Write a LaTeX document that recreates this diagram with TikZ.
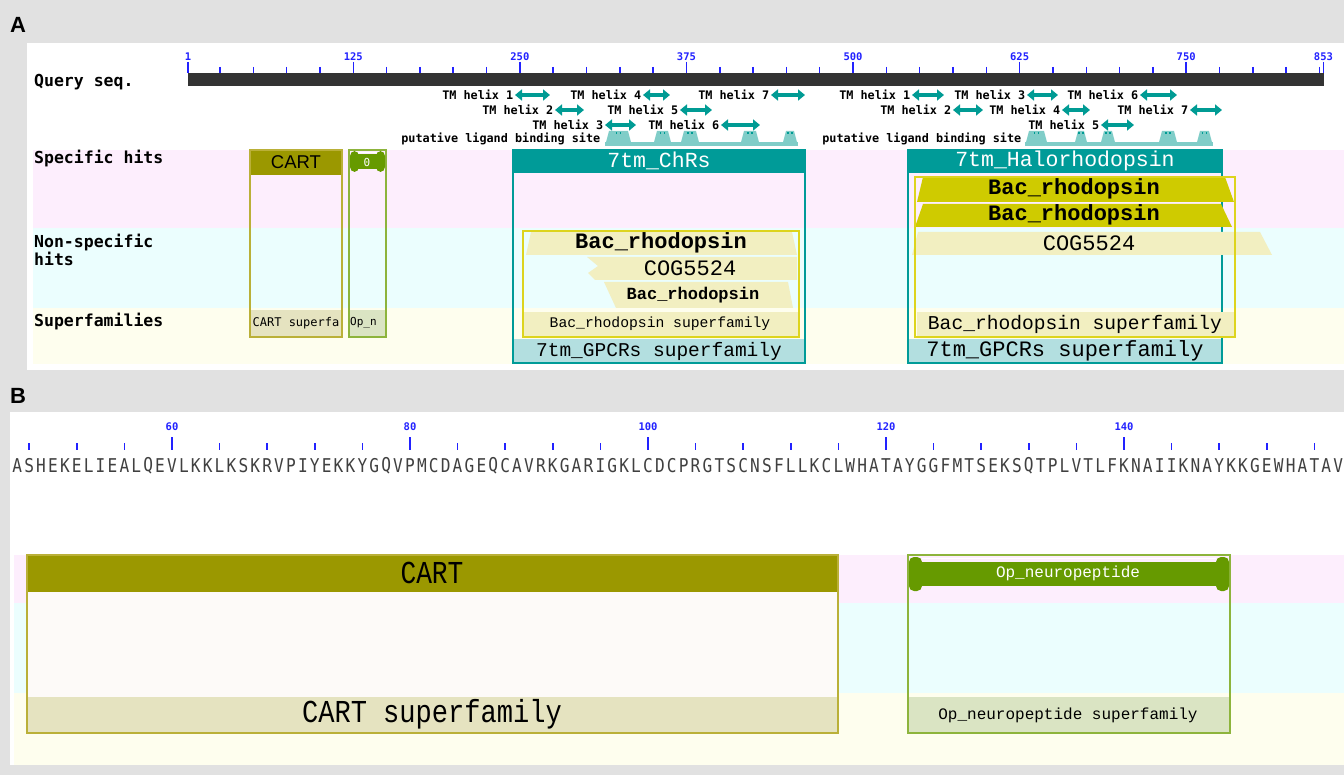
\documentclass[tikz,border=0pt]{standalone}
\usepackage{fontspec}
\usepackage{graphicx}
\usetikzlibrary{arrows.meta}
\newfontfamily\cddmono{Liberation Mono}
\newfontfamily\cddbit{DejaVu Sans Mono}
\newfontfamily\cddsans{Liberation Sans}
\definecolor{panelgray}{HTML}{E1E1E1}
\definecolor{bandpink}{HTML}{FDEEFD}
\definecolor{bandcyan}{HTML}{EBFEFE}
\definecolor{bandyellow}{HTML}{FEFEEE}
\definecolor{cartolive}{HTML}{9B9800}
\definecolor{cartline}{HTML}{BAB038}
\definecolor{cartsuper}{HTML}{E5E3C0}
\definecolor{cartinner}{HTML}{FDFAF8}
\definecolor{opgreen}{HTML}{669A00}
\definecolor{opline}{HTML}{8DB43C}
\definecolor{opsuper}{HTML}{DAE4C3}
\definecolor{cddteal}{HTML}{009B98}
\definecolor{tealsuper}{HTML}{B3DFE0}
\definecolor{bacdark}{HTML}{CFCB00}
\definecolor{bacline}{HTML}{DDD41E}
\definecolor{bacpale}{HTML}{F2EFC1}
\definecolor{tmteal}{HTML}{009B94}
\definecolor{ligteal}{HTML}{80CDC8}
\definecolor{rulerblue}{HTML}{2222FF}
\definecolor{querybar}{HTML}{333333}
\definecolor{seqgray}{HTML}{404040}
\newcommand{\narrowaa}[1]{\scalebox{0.85}[1]{#1}}
\newcommand{\tmhelix}[5]{\node[tmtext] (#1) at (#3,#5) {#2};
  \draw[tmarrow] (#1.east) -- (#4,#5);}
\newcommand{\ligpeak}[2]{\fill[ligteal] (#1,146) -- (#1+4,131) -- (#2-4,131) -- (#2,146) -- cycle;
  \fill[tmteal] ({(#1+#2)/2-3},132) rectangle ++(1.5,2.5);
  \fill[tmteal] ({(#1+#2)/2+1},132) rectangle ++(1.5,2.5);}
\tikzset{
  panellabel/.style={anchor=west, inner sep=0pt, font=\cddsans\bfseries\fontsize{22}{22}\selectfont},
  rowlabel/.style={anchor=west, inner sep=0pt, align=left, font=\cddbit\bfseries\fontsize{16.5}{18}\selectfont},
  rulertick/.style={draw=rulerblue, line width=1.5pt},
  rulerlab/.style={inner sep=0pt, text=rulerblue, font=\cddbit\bfseries\fontsize{10.5}{11}\selectfont},
  tmtext/.style={anchor=east, inner sep=1.5pt, font=\cddbit\bfseries\fontsize{11.8}{12}\selectfont},
  tmarrow/.style={draw=tmteal, line width=4.5pt, >={Triangle[length=7pt,width=11pt]}, <->},
  hittext/.style={inner sep=0pt},
  seqaa/.style={inner sep=0pt, text=seqgray, font=\cddbit\fontsize{19}{19}\selectfont}
}
\begin{document}
\begin{tikzpicture}[x=1pt,y=-1pt]
\useasboundingbox (0,0) rectangle (1344,775);
\clip (0,0) rectangle (1344,775);
\fill[panelgray] (0,0) rectangle (1344,775);
\fill[white] (27,43) rectangle (1344,370);
\fill[white] (10,412) rectangle (1344,765);
\node[panellabel] (labA) at (10,25) {A};
\node[panellabel] (labB) at (10,396) {B};

% panel A
\fill[bandpink] (33,150) rectangle (1344,228);
\fill[bandcyan] (33,228) rectangle (1344,308);
\fill[bandyellow] (33,308) rectangle (1344,364);
\node[rowlabel] (query) at (34,82) {Query seq.};
\node[rowlabel] (spec) at (34,159) {Specific hits};
\node[rowlabel] (nonspec) at (34,250) {Non-specific\\hits};
\node[rowlabel] (superfam) at (34,322) {Superfamilies};

\fill[querybar] (188,73) rectangle (1324,86);
\foreach \n in {25,50,...,850}
  \draw[rulertick] ({188+(\n-1)*1.3327},67) -- ({188+(\n-1)*1.3327},73);
\foreach \n in {1,125,250,375,500,625,750,853} {
  \draw[rulertick] ({188+(\n-1)*1.3327},62) -- ({188+(\n-1)*1.3327},73);
  \node[rulerlab] (tickA\n) at ({188+(\n-1)*1.3327},57) {\n};
}

\tmhelix{chr1}{TM helix 1}{515}{550}{95}
\tmhelix{chr4}{TM helix 4}{643}{670}{95}
\tmhelix{chr7}{TM helix 7}{771}{805}{95}
\tmhelix{chr2}{TM helix 2}{555}{584}{110}
\tmhelix{chr5}{TM helix 5}{680}{712}{110}
\tmhelix{chr3}{TM helix 3}{605}{636}{125}
\tmhelix{chr6}{TM helix 6}{721}{760}{125}
\tmhelix{halo1}{TM helix 1}{912}{944}{95}
\tmhelix{halo3}{TM helix 3}{1027}{1058}{95}
\tmhelix{halo6}{TM helix 6}{1140}{1177}{95}
\tmhelix{halo2}{TM helix 2}{953}{983}{110}
\tmhelix{halo4}{TM helix 4}{1062}{1090}{110}
\tmhelix{halo7}{TM helix 7}{1190}{1222}{110}
\tmhelix{halo5}{TM helix 5}{1101}{1134}{125}

\node[tmtext] (ligA) at (602,139) {putative ligand binding site};
\fill[ligteal] (605,142) rectangle (798,146);
\ligpeak{605}{632}\ligpeak{653}{672}\ligpeak{680}{700}\ligpeak{740}{760}\ligpeak{782}{798}
\node[tmtext] (ligB) at (1023,139) {putative ligand binding site};
\fill[ligteal] (1025,142) rectangle (1213,146);
\ligpeak{1025}{1048}\ligpeak{1074}{1088}\ligpeak{1100}{1116}\ligpeak{1158}{1178}\ligpeak{1196}{1213}

% CART and Op_n
\fill[cartolive] (250,150) rectangle (342,175);
\fill[cartsuper] (250,310) rectangle (342,337);
\draw[cartline, line width=1.5pt] (250,150) rectangle (342,337);
\node[hittext, font=\cddsans\fontsize{18.5}{19}\selectfont] (cartA) at (296,162) {CART};
\node[hittext, font=\cddbit\fontsize{12}{12}\selectfont] (cartsupA) at (296,323) {CART superfa};
\fill[opsuper] (349,310) rectangle (386,337);
\draw[opline, line width=1.5pt] (349,150) rectangle (386,337);
\fill[opgreen] (353,154) rectangle (382,169);
\fill[opgreen, rounded corners=5pt] (350,151) rectangle (359,172);
\fill[opgreen, rounded corners=5pt] (376,151) rectangle (385,172);
\draw[white, line width=1pt] (358,152.5) -- (377,152.5);
\node[hittext, text=white, font=\cddbit\fontsize{11}{11}\selectfont] (opA) at (367,162) {0};
\node[hittext, anchor=west, font=\cddbit\fontsize{11}{11}\selectfont] (opsupA) at (350,323) {Op\_n};

% 7tm_ChRs
\fill[cddteal] (513,150) rectangle (805,173);
\fill[tealsuper] (513,339) rectangle (805,363);
\draw[cddteal, line width=1.5pt] (513,150) rectangle (805,363);
\node[hittext, text=white, font=\cddmono\fontsize{21.5}{22}\selectfont] (chrs) at (659,161) {7tm\_ChRs};
\node[hittext, font=\cddmono\fontsize{19.5}{20}\selectfont] (gpcrA) at (659,351) {7tm\_GPCRs superfamily};
\fill[bacpale] (531,232) -- (792,232) -- (797,255) -- (526,255) -- cycle;
\fill[bacpale] (587,257) -- (797,257) -- (797,280) -- (595,280) -- (588,273) -- (598,266) -- cycle;
\fill[bacpale] (604,282) -- (788,282) -- (793,308) -- (616,308) -- cycle;
\fill[bacpale] (523,312) rectangle (799,337);
\draw[bacline, line width=1.2pt] (523,231) rectangle (799,337);
\node[hittext, font=\cddmono\bfseries\fontsize{22}{22}\selectfont] (bacA1) at (661,243) {Bac\_rhodopsin};
\node[hittext, font=\cddmono\fontsize{22}{22}\selectfont] (cogA) at (690,268) {COG5524};
\node[hittext, font=\cddmono\bfseries\fontsize{17}{17}\selectfont] (bacA2) at (693,295) {Bac\_rhodopsin};
\node[hittext, font=\cddmono\fontsize{14.7}{15}\selectfont] (bacsupA) at (660,324) {Bac\_rhodopsin superfamily};

% 7tm_Halorhodopsin
\fill[cddteal] (908,150) rectangle (1222,173);
\fill[tealsuper] (908,339) rectangle (1222,363);
\draw[cddteal, line width=1.5pt] (908,150) rectangle (1222,363);
\node[hittext, text=white, font=\cddmono\fontsize{21.5}{22}\selectfont] (halo) at (1065,161) {7tm\_Halorhodopsin};
\node[hittext, font=\cddmono\fontsize{22}{22}\selectfont] (gpcrB) at (1065,351) {7tm\_GPCRs superfamily};
\fill[bacdark] (923,177) -- (1225,177) -- (1234,202) -- (917,202) -- cycle;
\fill[bacdark] (923,204) -- (1221,204) -- (1232,227) -- (915,227) -- cycle;
\fill[bacpale] (918,232) -- (1260,232) -- (1272,255) -- (912,255) -- cycle;
\fill[bacpale] (917,312) rectangle (1235,337);
\draw[bacline, line width=1.2pt] (915,177) rectangle (1235,337);
\node[hittext, font=\cddmono\bfseries\fontsize{22}{22}\selectfont] (bacB1) at (1074,189) {Bac\_rhodopsin};
\node[hittext, font=\cddmono\bfseries\fontsize{22}{22}\selectfont] (bacB2) at (1074,215) {Bac\_rhodopsin};
\node[hittext, font=\cddmono\fontsize{22}{22}\selectfont] (cogB) at (1089,243) {COG5524};
\node[hittext, font=\cddmono\fontsize{19.6}{20}\selectfont] (bacsupB) at (1075,324) {Bac\_rhodopsin superfamily};

% panel B
\fill[bandpink] (14,555) rectangle (1344,603);
\fill[bandcyan] (14,603) rectangle (1344,693);
\fill[bandyellow] (14,693) rectangle (1344,765);
\foreach \r in {48,52,...,156}
  \draw[rulertick] ({172+(\r-60)*11.9},443) -- ({172+(\r-60)*11.9},450);
\foreach \r in {60,80,...,140} {
  \draw[rulertick] ({172+(\r-60)*11.9},437) -- ({172+(\r-60)*11.9},450);
  \node[rulerlab] (tickB\r) at ({172+(\r-60)*11.9},427) {\r};
}
\foreach \aa [count=\i from 0] in {A,S,H,E,K,E,L,I,E,A,L,Q,E,V,L,K,K,L,K,S,K,R,V,P,I,Y,E,K,K,Y,G,Q,V,P,M,C,D,A,G,E,Q,C,A,V,R,K,G,A,R,I,G,K,L,C,D,C,P,R,G,T,S,C,N,S,F,L,L,K,C,L,W,H,A,T,A,Y,G,G,F,M,T,S,E,K,S,Q,T,P,L,V,T,L,F,K,N,A,I,I,K,N,A,Y,K,K,G,E,W,H,A,T,A,V}
  \node[seqaa] (aa\i) at ({17.3+11.9*\i},466) {\narrowaa{\aa}};

\fill[cartinner] (27,592) rectangle (838,697);
\fill[cartolive] (27,555) rectangle (838,592);
\fill[cartsuper] (27,697) rectangle (838,733);
\draw[cartline, line width=1.5pt] (27,555) rectangle (838,733);
\node[hittext, font=\cddmono\fontsize{28.5}{29}\selectfont] (cartB) at (432,573) {\scalebox{0.92}[1.12]{CART}};
\node[hittext, font=\cddmono\fontsize{28.5}{29}\selectfont] (cartsupB) at (432,714) {\scalebox{0.95}[1.12]{CART superfamily}};

\fill[opsuper] (908,697) rectangle (1230,733);
\draw[opline, line width=1.5pt] (908,555) rectangle (1230,733);
\fill[opgreen] (915,562) rectangle (1223,586);
\fill[opgreen, rounded corners=5pt] (909,557) rectangle (922,591);
\fill[opgreen, rounded corners=5pt] (1216,557) rectangle (1229,591);
\draw[white, line width=1.5pt] (922,558.5) -- (1216,558.5);
\node[hittext, text=white, font=\cddmono\fontsize{16}{16}\selectfont] (opB) at (1068,573) {Op\_neuropeptide};
\node[hittext, font=\cddmono\fontsize{16}{16}\selectfont] (opsupB) at (1068,715) {Op\_neuropeptide superfamily};
\end{tikzpicture}
\end{document}
